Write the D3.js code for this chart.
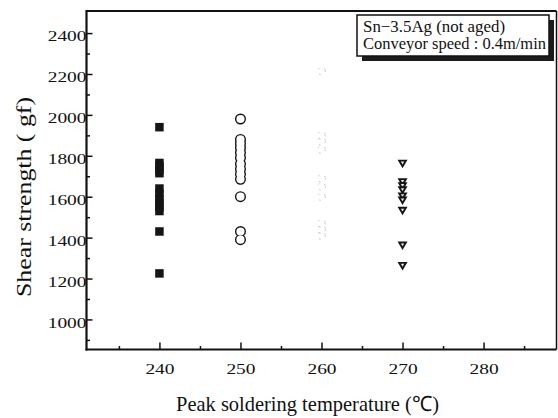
<!DOCTYPE html>
<html>
<head>
<meta charset="utf-8">
<script src="https://cdn.jsdelivr.net/npm/d3@7"></script>
<style>
  html, body { margin: 0; padding: 0; background: #fff; }
  svg { display: block; }
  svg text { font-family: "Liberation Serif", "Times New Roman", serif !important; fill: #111; }
</style>
</head>
<body>
<svg id="chart" width="558" height="418"></svg>
<script>
// ---- data ----
const temperatures = [240, 250, 260, 270];
const shear240 = [1940, 1765, 1750, 1730, 1715, 1640, 1615, 1590, 1570, 1550, 1530, 1430, 1225];
const shear250 = [1980, 1880, 1860, 1840, 1815, 1790, 1760, 1735, 1710, 1685, 1600, 1430, 1390];
const shear260 = [2215, 1900, 1870, 1830, 1690, 1650, 1600, 1470, 1440, 1410];
const shear270 = [1760, 1670, 1650, 1630, 1600, 1580, 1530, 1360, 1260];
const xTickValues = [240, 250, 260, 270, 280];
const xMinorValues = [235, 245, 255, 265, 275, 285];
const yTickValues = [1000, 1200, 1400, 1600, 1800, 2000, 2200, 2400];
const yMinorValues = [900, 1100, 1300, 1500, 1700, 1900, 2100, 2300];
const legendLines = ["Sn\u22123.5Ag (not aged)", "Conveyor speed : 0.4m/min"];
const xTitle = "Peak soldering temperature (\u2103)";
const yTitle = "Shear strength ( gf)";

// ---- layout ----
const L = 86.5, R = 556.5, T = 11, B = 349.5;
const FONT = "'Liberation Serif', 'Times New Roman', serif";
const svg = d3.select("#chart");
svg.append("rect").attr("width", 558).attr("height", 418).attr("fill", "#fff");

const x = d3.scaleLinear().domain([231, 289]).range([L, R]);
const y = d3.scaleLinear().domain([853, 2508]).range([B, T]);

// frame
svg.append("line").attr("x1", L).attr("x2", R).attr("y1", T).attr("y2", T)
  .attr("stroke", "#111").attr("stroke-width", 2);
svg.append("line").attr("x1", R).attr("x2", R).attr("y1", T).attr("y2", B)
  .attr("stroke", "#111").attr("stroke-width", 1.5);

function styleLabels(sel) {
  sel.style("font-family", FONT).style("font-size", "15.5px")
    .attr("fill", "#111")
    .attr("textLength", function () { return this.textContent.length * 9.7; })
    .attr("lengthAdjust", "spacingAndGlyphs");
}

// axes: major
const yAxis = d3.axisLeft(y).tickValues(yTickValues).tickSize(-6).tickPadding(1)
  .tickFormat(d3.format("d"));
const gy = svg.append("g").attr("transform", `translate(${L},0)`).call(yAxis)
  .attr("font-family", FONT);
gy.select(".domain").remove();
gy.selectAll(".tick line").attr("stroke", "#111").attr("stroke-width", 1.5);
gy.selectAll(".tick text").attr("dy", "0.5em").attr("x", 0).call(styleLabels);

const gyMinor = svg.append("g").attr("transform", `translate(${L},0)`)
  .call(d3.axisLeft(y).tickValues(yMinorValues).tickSize(-3.5).tickFormat(""));
gyMinor.select(".domain").remove();
gyMinor.selectAll(".tick line").attr("stroke", "#111").attr("stroke-width", 1.5);

const xAxis = d3.axisBottom(x).tickValues(xTickValues).tickSize(-7).tickFormat(d3.format("d"));
const gx = svg.append("g").attr("transform", `translate(0,${B})`).call(xAxis)
  .attr("font-family", FONT);
gx.select(".domain").remove();
gx.selectAll(".tick line").attr("stroke", "#111").attr("stroke-width", 1.5);
gx.selectAll(".tick text").attr("y", 24).attr("dy", 0).call(styleLabels);

const gxMinor = svg.append("g").attr("transform", `translate(0,${B})`)
  .call(d3.axisBottom(x).tickValues(xMinorValues).tickSize(-3.5).tickFormat(""));
gxMinor.select(".domain").remove();
gxMinor.selectAll(".tick line").attr("stroke", "#111").attr("stroke-width", 1.5);

// axis lines (thick)
svg.append("line").attr("x1", L).attr("x2", L).attr("y1", T - 1).attr("y2", B + 1)
  .attr("stroke", "#111").attr("stroke-width", 2.2);
svg.append("line").attr("x1", L - 1).attr("x2", R).attr("y1", B).attr("y2", B)
  .attr("stroke", "#111").attr("stroke-width", 2);

// ---- marks ----
const pts = (t, arr) => arr.map(v => ({ t, v }));

// 240: filled squares
const sq = 8.5;
svg.append("g").selectAll("rect").data(pts(temperatures[0], shear240)).join("rect")
  .attr("x", d => x(d.t) - sq / 2).attr("y", d => y(d.v) - sq / 2)
  .attr("width", sq).attr("height", sq).attr("fill", "#151515");

// 250: open circles (outline union)
const cr = 4.2;
const cData = pts(temperatures[1], shear250);
svg.append("g").selectAll("circle").data(cData).join("circle")
  .attr("cx", d => x(d.t)).attr("cy", d => y(d.v)).attr("r", cr)
  .attr("fill", "#111").attr("stroke", "#111").attr("stroke-width", 2.6);
svg.append("g").selectAll("circle").data(cData).join("circle")
  .attr("cx", d => x(d.t)).attr("cy", d => y(d.v)).attr("r", cr - 0.1)
  .attr("fill", "#fff");

// 260: very faint markers (nearly invisible in the reference)
svg.append("g").selectAll("circle").data(pts(temperatures[2], shear260)).join("circle")
  .attr("cx", d => x(d.t)).attr("cy", d => y(d.v)).attr("r", 3.8)
  .attr("fill", "none").attr("stroke", "#9a9a9a").attr("stroke-width", 1)
  .attr("stroke-dasharray", "1 6");

// 270: inverted triangles
const tri = (cx, cy, w, h) => `M${cx - w / 2},${cy - h / 2}L${cx + w / 2},${cy - h / 2}L${cx},${cy + h / 2}Z`;
const gT = svg.append("g");
pts(temperatures[3], shear270).forEach(d => {
  const cx = x(d.t), cy = y(d.v);
  gT.append("path").attr("d", tri(cx, cy, 10, 8.5)).attr("fill", "#151515");
  gT.append("path").attr("d", tri(cx, cy - 1, 3.4, 2.8)).attr("fill", "#e8e8e8");
});

// ---- legend box ----
const lg = svg.append("g");
lg.append("rect").attr("x", 362).attr("y", 20).attr("width", 192).attr("height", 41).attr("fill", "#1c1c1c");
lg.append("rect").attr("x", 357).attr("y", 15).attr("width", 192).attr("height", 41)
  .attr("fill", "#fff").attr("stroke", "#111").attr("stroke-width", 1.5);
lg.append("text").attr("x", 363).attr("y", 31.5).style("font-size", "16px")
  .attr("textLength", 142).attr("lengthAdjust", "spacingAndGlyphs").text(legendLines[0]);
lg.append("text").attr("x", 363).attr("y", 48.5).style("font-size", "16px")
  .attr("textLength", 183).attr("lengthAdjust", "spacingAndGlyphs").text(legendLines[1]);

// ---- axis titles ----
svg.append("text").attr("x", 176).attr("y", 411).style("font-size", "21px")
  .attr("textLength", 263).attr("lengthAdjust", "spacingAndGlyphs").text(xTitle);
svg.append("text").attr("transform", "translate(31,297) rotate(-90)").style("font-size", "22px")
  .attr("textLength", 200).attr("lengthAdjust", "spacingAndGlyphs").text(yTitle);
</script>
</body>
</html>
